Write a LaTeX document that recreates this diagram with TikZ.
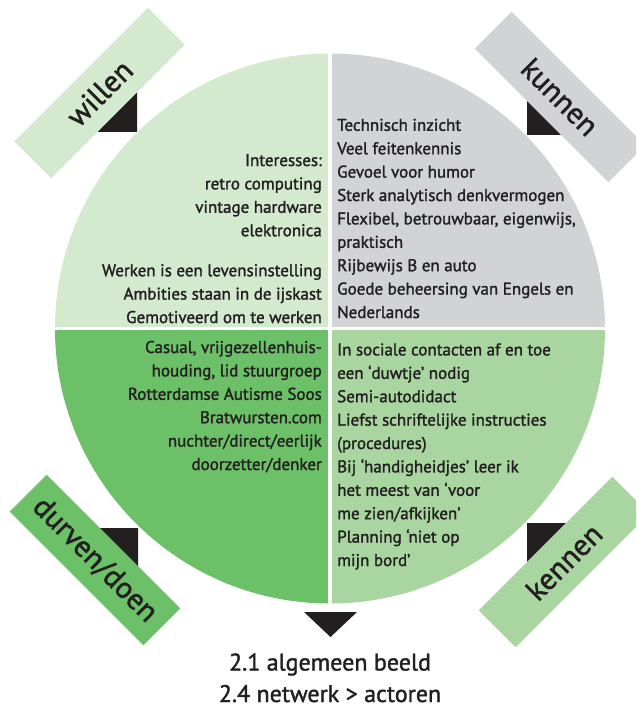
\documentclass[tikz,border=0pt]{standalone}
\usepackage{fontspec}
\setmainfont{PT Sans}[FakeBold=1.5]
\definecolor{cTL}{RGB}{211,234,207}
\definecolor{cTR}{RGB}{209,211,212}
\definecolor{cBL}{RGB}{108,192,104}
\definecolor{cBR}{RGB}{168,213,160}
\definecolor{ink}{RGB}{35,31,32}
\begin{document}
\begin{tikzpicture}[x=1pt,y=-1pt,
  body/.style={font=\fontsize{17}{23.4}\selectfont, text=ink, inner sep=0pt},
  big/.style={font=\fontsize{24}{31.5}\selectfont, text=ink, inner sep=0pt, align=center},
  lab/.style={font=\fontsize{30}{32}\selectfont, text=ink, inner sep=0pt,
    minimum width=189pt, minimum height=52pt},
  tri/.style={fill=ink}]
\useasboundingbox (0,0) rectangle (636,708);
\clip (0,0) rectangle (636,708);
% quadrants
\begin{scope}\clip (0,0) rectangle (330,328.5);\fill[cTL] (330,328.5) circle[radius=275pt];\end{scope}
\begin{scope}\clip (330,0) rectangle (636,328.5);\fill[cTR] (330,328.5) circle[radius=275pt];\end{scope}
\begin{scope}\clip (0,328.5) rectangle (330,708);\fill[cBL] (330,328.5) circle[radius=275pt];\end{scope}
\begin{scope}\clip (330,328.5) rectangle (636,708);\fill[cBR] (330,328.5) circle[radius=275pt];\end{scope}
\draw[white, line width=3.5pt] (330,40) -- (330,620);
\draw[white, line width=3pt] (40,328.5) -- (620,328.5);
% triangles
\fill[tri] (97,132) -- (137,132) -- (137,92) -- cycle;
\fill[tri] (527,96) -- (527,135) -- (566,135) -- cycle;
\fill[tri] (98,528) -- (138,528) -- (138,568) -- cycle;
\fill[tri] (527,523) -- (566,523) -- (527,562) -- cycle;
\fill[tri] (304,612) -- (357,612) -- (330.5,637) -- cycle;
% labels
\node[lab, fill=cTL, rotate=45] (willen) at (99.5,93) {willen};
\node[lab, fill=cTR, rotate=-45] (kunnen) at (560,97) {kunnen};
\node[lab, fill=cBL, rotate=-45] (durven) at (95,560) {durven/doen};
\node[lab, fill=cBR, rotate=45] (kennen) at (564,562) {kennen};
% texts (base anchor = baseline of the last line)
\node[body, anchor=base east, align=right] (tl) at (322,323) {Interesses:\\retro computing\\vintage hardware\\elektronica\\[16.6pt]Werken is een levensinstelling\\Ambities staan in de ijskast\\Gemotiveerd om te werken};
\node[body, anchor=base west, align=left] (tr) at (337,318) {Technisch inzicht\\Veel feitenkennis\\Gevoel voor humor\\Sterk analytisch denkvermogen\\Flexibel, betrouwbaar, eigenwijs,\\praktisch\\Rijbewijs B en auto\\Goede beheersing van Engels en\\Nederlands};
\node[body, anchor=base east, align=right] (bl) at (322,470) {Casual, vrijgezellenhuis-\\houding, lid stuurgroep\\Rotterdamse Autisme Soos\\Bratwursten.com\\nuchter/direct/eerlijk\\doorzetter/denker};
\node[body, anchor=base west, align=left] (br) at (337,566) {In sociale contacten af en toe\\een ‘duwtje’ nodig\\Semi-autodidact\\Liefst schriftelijke instructies\\(procedures)\\Bij ‘handigheidjes’ leer ik\\het meest van ‘voor\\me zien/afkijken’\\Planning ‘niet op\\mijn bord’};
\node[big, anchor=base] (bottom) at (330,702) {2.1 algemeen beeld\\2.4 netwerk > actoren};
\end{tikzpicture}
\end{document}
